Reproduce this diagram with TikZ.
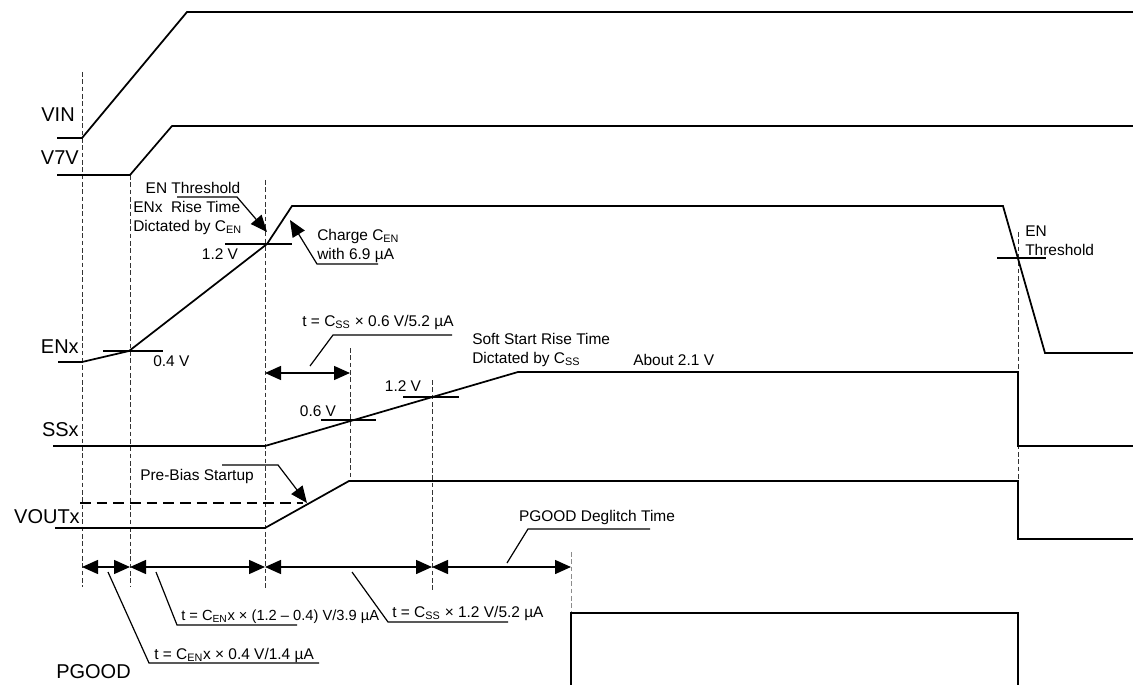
\documentclass[tikz,border=0pt]{standalone}
\usepackage{fontspec}
\setmainfont{Liberation Sans}
\usetikzlibrary{arrows.meta}

\begin{document}
\begin{tikzpicture}[
    x=0.75pt, y=-0.75pt,
    sig/.style   = {draw, line width=1.3pt, line join=miter},
    tck/.style   = {draw, line width=1.3pt},
    grd/.style   = {draw=black!80, line width=0.6pt, dash pattern=on 3.5pt off 2pt},
    grdlt/.style = {grd, draw=black!45},
    pre/.style   = {draw, line width=1.1pt, dash pattern=on 8pt off 4.5pt},
    dim/.style   = {{Triangle[length=12pt,width=10.5pt]}-{Triangle[length=12pt,width=10.5pt]},
                    draw, line width=1.1pt},
    ldr/.style   = {draw, line width=0.9pt},
    ptr/.style   = {ldr, -{Triangle[length=12.5pt,width=10.5pt]}},
    nm/.style    = {font=\fontsize{15}{18}\selectfont, inner sep=0pt},
    lb/.style    = {font=\fontsize{11.6}{14.3}\selectfont, inner sep=0pt, align=left},
    eq/.style    = {font=\fontsize{11.6}{14}\selectfont, inner sep=0pt},
    eqs/.style   = {eq, font=\fontsize{11}{13}\selectfont},
  ]
  \useasboundingbox (0,0) rectangle (1133,685);

  %% ------------------------------------------------ timing marks
  \draw[grd] (82,72) -- (82,587);
  \draw[grd] (130,175) -- (130,587);
  \draw[grd] (265,180) -- (265,590);
  \draw[grd] (350,348) -- (350,481);
  \draw[grd] (432,380) -- (432,590);
  \draw[grd] (1018,232) -- (1018,481);
  \draw[grdlt] (571,552) -- (571,612);

  %% ------------------------------------------------ signal names
  \node[nm, anchor=east] (nVIN)  at (75,115) {VIN};
  \node[nm, anchor=east] (nV7V)  at (79,158) {V7V};
  \node[nm, anchor=east] (nEN)   at (79,347) {ENx};
  \node[nm, anchor=east] (nSS)   at (79,430) {SSx};
  \node[nm, anchor=east] (nVOUT) at (80,517) {VOUTx};
  \node[nm, anchor=west] (nPG)   at (56,672) {PGOOD};

  %% ------------------------------------------------ waveforms
  \draw[sig] (57,138) -- (82,138) -- (187,12) -- (1133,12);
  \draw[sig] (57,175) -- (130,175) -- (172,126) -- (1133,126);
  \draw[sig] (58,362) -- (82,362) -- (129,351) -- (267,244) -- (292,206)
             -- (1003,206) -- (1045,353) -- (1133,353);
  \draw[sig] (53,446) -- (265,446) -- (518,372) -- (1018,372) -- (1018,446) -- (1133,446);
  \draw[sig] (55,528) -- (265,528) -- (349,481) -- (1018,481) -- (1018,539) -- (1133,539);
  \draw[pre] (80,503) -- (303,503);
  \draw[sig] (571,685) -- (571,613) -- (1018,613) -- (1018,685);

  %% ------------------------------------------------ level ticks
  \draw[tck] (103,351) -- (163,351);
  \draw[tck] (225,244) -- (292,244);
  \draw[tck] (321,420) -- (376,420);
  \draw[tck] (403,397) -- (459,397);
  \draw[tck] (997,258) -- (1046,258);
  \node[lb, anchor=west] (v04) at (153,361) {0.4 V};
  \node[lb] (v12a) at (220,254) {1.2 V};
  \node[lb] (v06)  at (318,411) {0.6 V};
  \node[lb] (v12b) at (403,386) {1.2 V};
  \node[lb, anchor=west] (v21) at (633,360) {About 2.1 V};

  %% ------------------------------------------------ EN notes
  \node[lb] (enth) at (193,188) {EN Threshold};
  \node[lb, anchor=west] (enrise) at (133,218) {ENx\ \ Rise Time\\Dictated by C\textsubscript{EN}};
  \coordinate (enthTip) at (267,232);
  \draw[ptr] (177,197) -- (237,197) -- (enthTip);
  \node[lb, anchor=west] (chg) at (317,246) {Charge C\textsubscript{EN}\\with 6.9 µA};
  \coordinate (chgTip) at (290,220);
  \draw[ptr] (378,264) -- (317,264) -- (chgTip);
  \node[lb, anchor=west] (enoff) at (1025,241) {EN\\Threshold};

  %% ------------------------------------------------ soft start notes
  \coordinate (ssA) at (265,373);
  \coordinate (ssB) at (350,373);
  \draw[dim] (ssA) -- (ssB);
  \node[lb] (sst) at (378,322) {t = C\textsubscript{SS} × 0.6 V/5.2 µA};
  \draw[ldr] (452,335) -- (333,335) -- (310,366);
  \node[lb, anchor=west] (ssrise) at (472,350) {Soft Start Rise Time\\Dictated by C\textsubscript{SS}};

  %% ------------------------------------------------ pre-bias
  \node[lb] (pbs) at (197,476) {Pre-Bias Startup};
  \coordinate (pbsTip) at (307,503);
  \draw[ptr] (222,465) -- (278,465) -- (pbsTip);

  %% ------------------------------------------------ delay chain
  \coordinate (d0) at (82,567);
  \coordinate (d1) at (130,567);
  \coordinate (d2) at (265,567);
  \coordinate (d3) at (432,567);
  \coordinate (d4) at (571,567);
  \draw[dim] (d0) -- (d1);
  \draw[dim] (d1) -- (d2);
  \draw[dim] (d2) -- (d3);
  \draw[dim] (d3) -- (d4);

  \node[eq, anchor=west] (t1) at (154,655) {t = C\textsubscript{EN}x × 0.4 V/1.4 µA};
  \draw[ldr] (108,572) -- (149,663) -- (319,663);
  \node[eqs, anchor=west] (t2) at (181,617) {t = C\textsubscript{EN}x × (1.2 – 0.4) V/3.9 µA};
  \draw[ldr] (156,572) -- (177,625) -- (297,625);
  \node[eq, anchor=west] (t3) at (392,613) {t = C\textsubscript{SS} × 1.2 V/5.2 µA};
  \draw[ldr] (352,572) -- (388,622) -- (508,622);
  \node[lb] (pgd) at (597,517) {PGOOD Deglitch Time};
  \draw[ldr] (650,529) -- (528,529) -- (507,563);
\end{tikzpicture}
\end{document}
